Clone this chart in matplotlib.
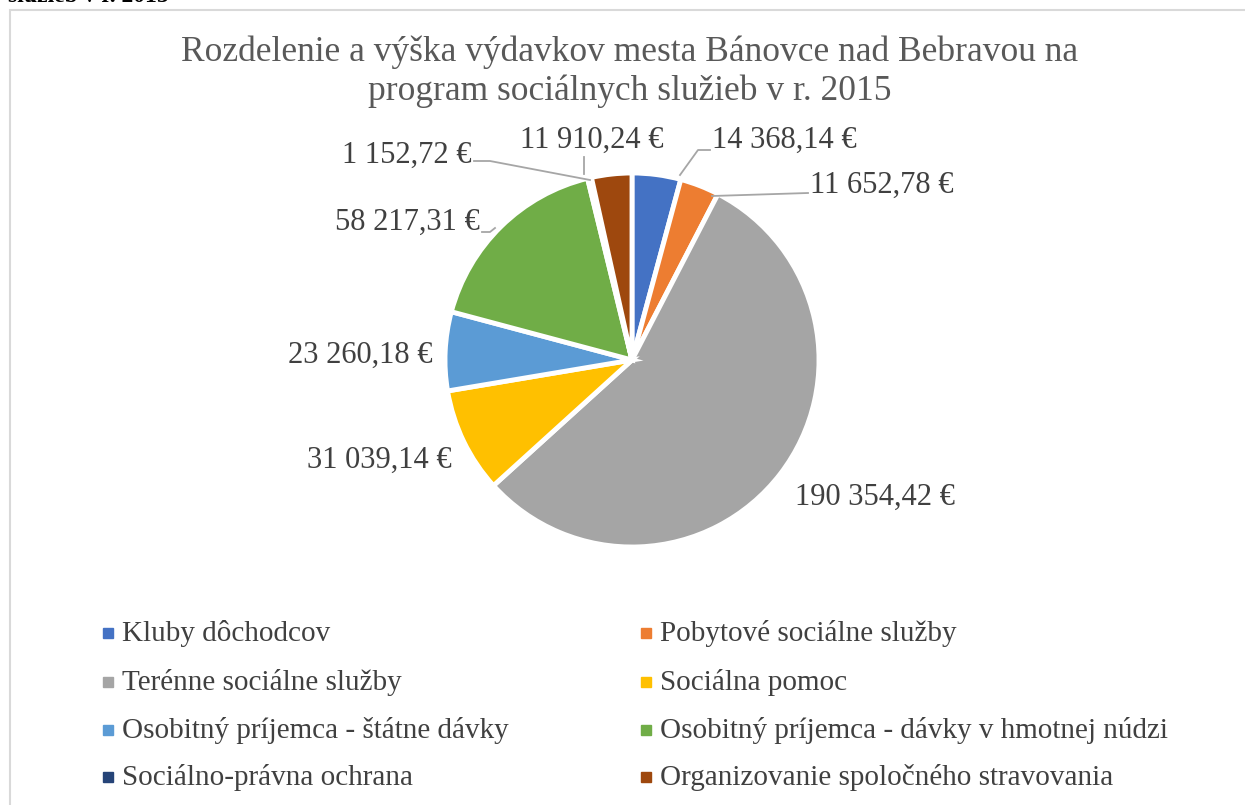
import numpy as np
import matplotlib.pyplot as plt
from matplotlib.patches import Rectangle

plt.rcParams['font.family'] = ['Liberation Serif', 'DejaVu Serif']

# Data
categories = ["Kluby dôchodcov", "Pobytové sociálne služby", "Terénne sociálne služby",
              "Sociálna pomoc", "Osobitný príjemca - štátne dávky",
              "Osobitný príjemca - dávky v hmotnej núdzi", "Sociálno-právna ochrana",
              "Organizovanie spoločného stravovania"]
values = [14368.14, 11652.78, 190354.42, 31039.14, 23260.18, 58217.31, 1152.72, 11910.24]
labels = ["14 368,14 €", "11 652,78 €", "190 354,42 €", "31 039,14 €",
          "23 260,18 €", "58 217,31 €", "1 152,72 €", "11 910,24 €"]
colors = ['#4472C4', '#ED7D31', '#A5A5A5', '#FFC000', '#5B9BD5', '#70AD47', '#264478', '#9E480E']

title = "Rozdelenie a výška výdavkov mesta Bánovce nad Bebravou na\nprogram sociálnych služieb v r. 2015"

W, H = 1245, 805
fig = plt.figure(figsize=(W / 100, H / 100), dpi=100)
ax = fig.add_axes([0, 0, 1, 1])

# pixel helper (y from top)
def py(y):
    return H - y

cx, cy, r = 632, py(360), 187
ax.pie(values, colors=colors, startangle=90, counterclock=False,
       center=(cx, cy), radius=r, frame=True,
       wedgeprops=dict(edgecolor='white', linewidth=3.5))
ax.set_xlim(0, W)
ax.set_ylim(0, H)
ax.set_aspect('auto')
ax.axis('off')

# chart border (cut on right and bottom)
ax.add_patch(Rectangle((10, -20), W + 40, py(10) + 20, fill=False,
                       edgecolor='#D9D9D9', linewidth=1.5, clip_on=False))
ax.text(8, py(-3), "služieb v r. 2015", fontsize=17, fontweight='bold',
        ha='left', va='center', color='black')

ax.text(630, py(72), title, fontsize=25.5, color='#595959', ha='center', va='center',
        linespacing=1.22)

# data labels: text position (x, y from top), alignment, leader line points
lab_pos = [(712, 140, 'left'), (810, 185, 'left'), (795, 497, 'left'), (452, 460, 'right'),
           (432, 355, 'right'), (480, 222, 'right'), (472, 155, 'right'), (592, 140, 'center')]
leaders = [[(680, 175), (698, 150), (710, 150)],
           [(712, 196), (808, 193)],
           None, None, None,
           [(482, 232), (490, 232), (495, 228)],
           [(474, 161), (490, 161), (590, 180)],
           [(584, 157), (584, 174)]]
for i, lab in enumerate(labels):
    x, y, ha = lab_pos[i]
    ax.text(x, py(y), lab, fontsize=22, color='#404040', ha=ha, va='center')
    if leaders[i] is not None:
        pts = np.array(leaders[i], dtype=float)
        ax.plot(pts[:, 0], H - pts[:, 1], color='#A6A6A6', linewidth=1.3)

# legend, two columns
col_x = [103, 641]
row_y = [633, 682, 730, 777]
for i, cat in enumerate(categories):
    x = col_x[i % 2]
    y = row_y[i // 2]
    ax.add_patch(Rectangle((x, py(y) - 5), 10, 10, color=colors[i]))
    ax.text(x + 19, py(y), cat, fontsize=21, color='#404040', ha='left', va='center')

fig.savefig('out.png', dpi=100)
